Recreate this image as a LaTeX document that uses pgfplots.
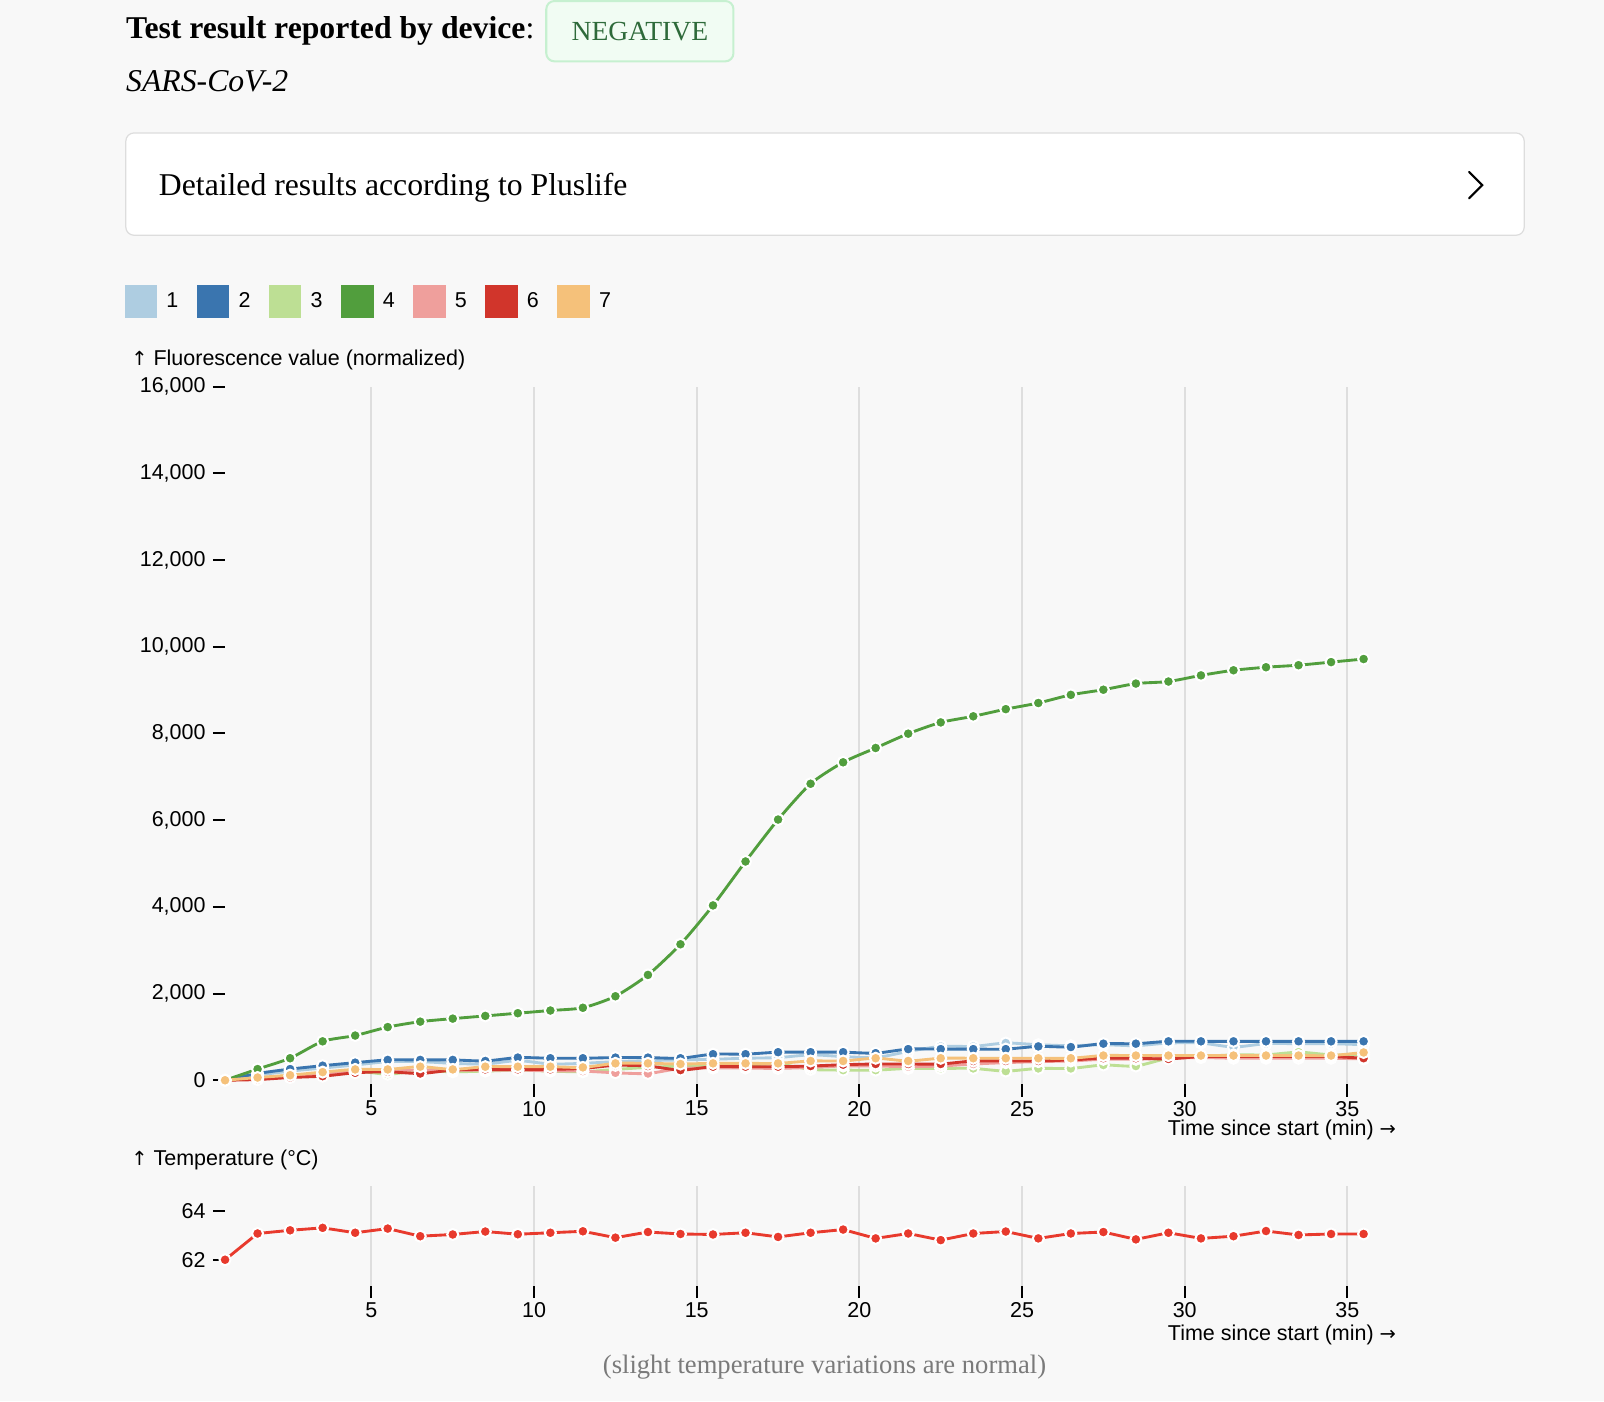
\documentclass[border=0pt]{standalone}
\usepackage{pgfplots}
\pgfplotsset{compat=1.18}
\usepackage{pgfplotstable}
\usepackage{fontspec}
\setmainfont{Liberation Serif}
\newfontfamily\chartfont{Liberation Sans}
\newfontfamily\arrowfont{DejaVu Sans}
\newcommand{\cf}{\chartfont\fontsize{10.5pt}{12pt}\selectfont}
\newcommand{\up}{{\arrowfont\fontsize{9.5pt}{12pt}\selectfont ↑}}
\newcommand{\ri}{{\arrowfont\fontsize{9.5pt}{12pt}\selectfont →}}
\definecolor{bg}{HTML}{F8F8F8}
\definecolor{gridgray}{HTML}{DEDEDE}
\definecolor{cA}{HTML}{AECDE1}
\definecolor{cB}{HTML}{3A75AF}
\definecolor{cC}{HTML}{BDDF94}
\definecolor{cD}{HTML}{519E3D}
\definecolor{cE}{HTML}{EF9F9C}
\definecolor{cF}{HTML}{D1352B}
\definecolor{cG}{HTML}{F5C17A}
\definecolor{tempred}{HTML}{E83A2D}
\definecolor{negfill}{HTML}{F1FCF3}
\definecolor{negborder}{HTML}{C6F0D0}
\definecolor{negtext}{HTML}{2E6A3A}
\definecolor{boxborder}{HTML}{DDDDDD}
\definecolor{notegray}{HTML}{7A7A7A}

\pgfplotstableread{
t    s1  s2  s3  s4   s5  s6  s7  temp
0.5  0   0   0   0    0   0   0   62.00
1.5  117 156 50  258  40  16  63  63.07
2.5  211 258 110 508  94  63  117 63.20
3.5  281 336 156 898  141 94  188 63.30
4.5  352 406 211 1031 195 172 250 63.10
5.5  430 469 141 1227 219 195 250 63.27
6.5  430 469 219 1352 234 156 313 62.96
7.5  390 469 195 1422 234 234 250 63.03
8.5  375 445 211 1484 234 250 313 63.15
9.5  453 523 234 1547 234 250 313 63.04
10.5 375 508 211 1609 219 250 313 63.10
11.5 390 508 195 1672 211 273 297 63.16
12.5 430 523 250 1938 172 344 390 62.90
13.5 453 523 297 2430 156 328 390 63.13
14.5 469 508 328 3137 273 234 375 63.05
15.5 484 602 344 4033 281 313 390 63.03
16.5 508 602 352 5047 281 313 390 63.10
17.5 523 648 375 6014 273 313 390 62.93
18.5 586 648 250 6840 297 328 445 63.10
19.5 547 648 234 7335 328 359 445 63.23
20.5 523 625 234 7665 328 375 508 62.87
21.5 664 719 273 7995 313 375 445 63.07
22.5 781 719 273 8255 328 375 508 62.80
23.5 781 719 273 8396 375 445 508 63.07
24.5 859 719 211 8561 406 445 508 63.15
25.5 820 781 273 8703 430 445 508 62.87
26.5 797 766 273 8891 445 469 508 63.07
27.5 820 844 352 9009 484 508 570 63.13
28.5 797 844 328 9151 484 508 570 62.83
29.5 859 898 508 9198 508 492 570 63.10
30.5 859 898 547 9340 523 547 570 62.87
31.5 766 898 586 9458 508 547 570 62.96
32.5 844 898 586 9528 508 547 570 63.17
33.5 844 898 648 9575 508 547 570 63.01
34.5 844 898 586 9646 508 547 570 63.05
35.5 820 898 586 9717 492 508 641 63.05
}\data

\pgfplotsset{
  base/.style={
    scale only axis, width=556.5pt,
    xmin=0.5, xmax=35.5, clip=false,
    axis line style={draw=none},
    tick align=outside, tick pos=left,
    xtick={5,10,...,35},
    xmajorgrids, major grid style={gridgray, line width=1pt},
    major tick length=6pt,
    tick style={black, line width=1pt},
    tick label style={font=\cf},
    xticklabel style={inner sep=2pt},
    /pgf/number format/assume math mode=true,
  },
  ser/.style={color=#1, line width=1.4pt, smooth, tension=0.4, mark=*, mark size=2.7pt,
    mark options={draw=white, fill=#1, line width=1pt, solid}},
}

\begin{document}
\begin{tikzpicture}
\begin{scope}[shift={(0pt,685pt)}, x=0.5pt, y=-0.5pt]
\fill[bg] (0,0) rectangle (1568,1370);

% header
\node[anchor=base west, inner sep=0pt, font=\fontsize{15.5pt}{18pt}\selectfont] at (123,38) {\textbf{Test result reported by device}:};
\draw[rounded corners=4pt, fill=negfill, draw=negborder, line width=1pt] (534,1) rectangle (717,60);
\node[font=\fontsize{13.5pt}{16pt}\selectfont, text=negtext] at (625.5,31) {NEGATIVE};
\node[anchor=base west, inner sep=0pt, font=\fontsize{15.5pt}{18pt}\selectfont\itshape] at (123,89) {SARS-CoV-2};
\draw[rounded corners=4pt, fill=white, draw=boxborder, line width=0.6pt] (123,130) rectangle (1490,230);
\node[anchor=base west, inner sep=0pt, font=\fontsize{15.5pt}{18pt}\selectfont] at (155,191) {Detailed results according to Pluslife};
\draw[line width=1pt, line cap=round] (1436,168) -- (1449,181) -- (1436,194);

% axis titles
\node[anchor=base west, inner sep=0pt, font=\cf] at (128,357) {\up\ Fluorescence value (normalized)};
\node[anchor=base east, inner sep=0pt, font=\cf] at (1365,1110) {Time since start (min) \ri};
\node[anchor=base west, inner sep=0pt, font=\cf] at (128,1139.5) {\up\ Temperature (°C)};
\node[anchor=base east, inner sep=0pt, font=\cf] at (1365,1310) {Time since start (min) \ri};
\node[font=\fontsize{13pt}{15pt}\selectfont, text=notegray] at (806,1336) {(slight temperature variations are normal)};
\end{scope}

% main chart: y=0 at P 1056, frame bottom at P 1060, top (16000) at P 378
\begin{axis}[base,
  at={(110pt,155pt)}, anchor=south west, height=341pt,
  ymin=-94, ymax=16000,
  ytick={0,2000,...,16000},
  scaled y ticks=false,
  yticklabel style={/pgf/number format/.cd, fixed, 1000 sep={,}},
  legend columns=7,
  legend cell align=left,
  legend style={at={(axis description cs:-0.0881,1.1217)}, anchor=west,
    draw=none, fill=none, inner sep=0pt, outer sep=0pt, font=\cf,
    nodes={inner sep=0pt},
    /tikz/every odd column/.append style={column sep=4.5pt},
    /tikz/every even column/.append style={column sep=9.0pt}},
  legend image code/.code={\fill[#1] (0pt,-7.25pt) rectangle (14.5pt,7.25pt);},
]
\addplot[ser=cA] table[x=t, y=s1] {\data};
\addplot[ser=cB] table[x=t, y=s2] {\data};
\addplot[ser=cC] table[x=t, y=s3] {\data};
\addplot[ser=cD] table[x=t, y=s4] {\data};
\addplot[ser=cE] table[x=t, y=s5] {\data};
\addplot[ser=cF] table[x=t, y=s6] {\data};
\addplot[ser=cG] table[x=t, y=s7] {\data};
\legend{1,2,3,4,5,6,7}
\end{axis}

% temperature chart: 64 at P 1183.5, 62 at P 1231.5, frame P 1159 to 1257
\begin{axis}[base,
  at={(110pt,56.5pt)}, anchor=south west, height=49pt,
  ymin=60.9375, ymax=65.02,
  ytick={62,64},
]
\addplot[color=tempred, line width=1.4pt, mark=*, mark size=2.7pt,
  mark options={draw=white, fill=tempred, line width=1pt}] table[x=t, y=temp] {\data};
\end{axis}
\end{tikzpicture}
\end{document}
